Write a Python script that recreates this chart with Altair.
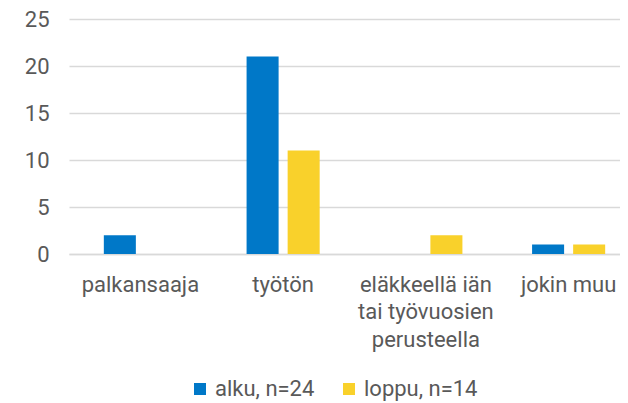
import altair as alt
import pandas as pd

categories = ["palkansaaja", "työtön", "eläkkeellä iän tai työvuosien perusteella", "jokin muu"]
series = ["alku, n=24", "loppu, n=14"]
alku = [2, 21, 0, 1]
loppu = [0, 11, 2, 1]
y_ticks = [0, 5, 10, 15, 20, 25]

rows = []
for c, a, l in zip(categories, alku, loppu):
    rows.append({"kategoria": c, "sarja": series[0], "arvo": a})
    rows.append({"kategoria": c, "sarja": series[1], "arvo": l})
df = pd.DataFrame(rows)

FONT = "Roboto"
GRAY = "#595959"
FS = 22

label_expr = ("datum.value == 'eläkkeellä iän tai työvuosien perusteella' ? "
              "['eläkkeellä iän', 'tai työvuosien', 'perusteella'] : datum.value")

chart = alt.Chart(df).mark_bar().encode(
    x=alt.X("kategoria:N", sort=categories, title=None,
            scale=alt.Scale(paddingInner=0.488, paddingOuter=0.244, range=[0, 571]),
            axis=alt.Axis(labelAngle=0, labelExpr=label_expr, labelFont=FONT,
                          labelFontSize=FS, labelColor=GRAY, labelLineHeight=27.5,
                          labelPadding=20, ticks=False, domainColor="#d9d9d9",
                          domainWidth=1.5, labelBaseline="top")),
    xOffset=alt.XOffset("sarja:N", sort=series,
                        scale=alt.Scale(paddingInner=0.22, paddingOuter=0)),
    y=alt.Y("arvo:Q", title=None,
            scale=alt.Scale(domain=[0, 25], nice=False),
            axis=alt.Axis(values=y_ticks, labelFont=FONT, labelFontSize=FS,
                          labelColor=GRAY, labelPadding=20, ticks=False,
                          domain=False, gridColor="#d9d9d9", gridWidth=1.5)),
    color=alt.Color("sarja:N", sort=series,
                    scale=alt.Scale(domain=series, range=["#0078C8", "#F9D12B"]),
                    legend=alt.Legend(title=None, orient="none", direction="horizontal",
                                      legendX=120, legendY=359,
                                      symbolType="square", symbolSize=144,
                                      symbolStrokeWidth=0,
                                      labelFont=FONT, labelFontSize=FS,
                                      labelColor=GRAY, columnPadding=23,
                                      labelOffset=4)),
).properties(
    width=551, height=235,
    autosize=alt.AutoSizeParams(type="none"),
    padding={"left": 61, "top": 11, "right": 0, "bottom": 150},
).configure_view(stroke=None)

chart.save("out.html", embed_options={"renderer": "svg", "actions": False})
